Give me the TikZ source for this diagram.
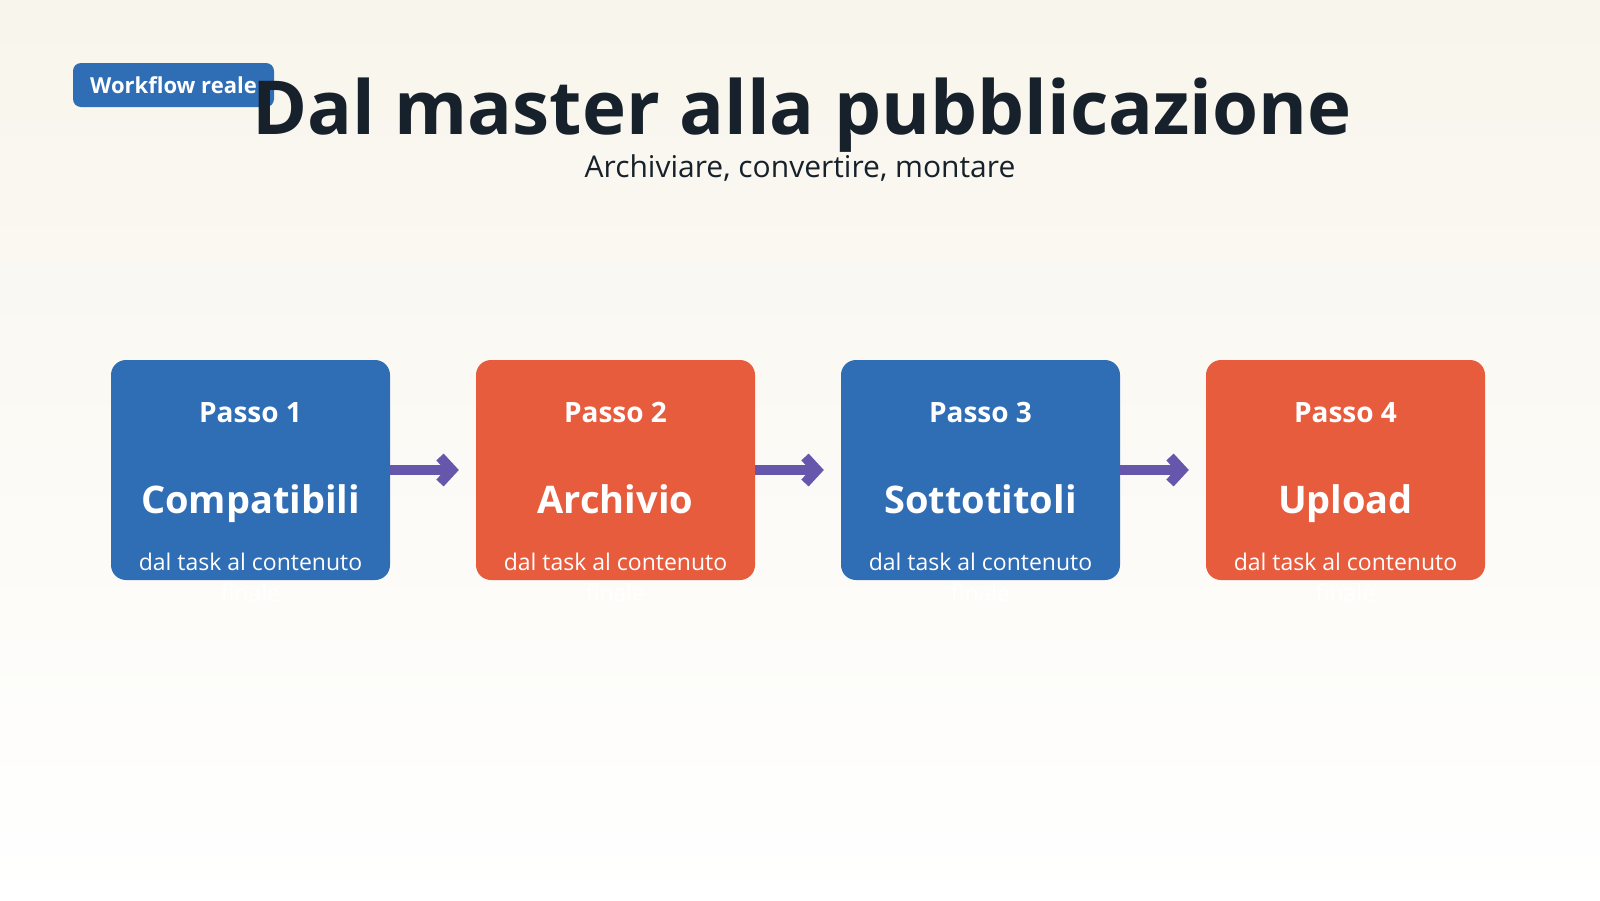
\documentclass[tikz,border=0pt]{standalone}
\usepackage{fontspec}
\setmainfont{Open Sans}
\usetikzlibrary{positioning,calc,arrows.meta}

\definecolor{fondo}{HTML}{F8F5EC}
\definecolor{blu}{HTML}{2F6DB5}
\definecolor{rosso}{HTML}{E85C3E}
\definecolor{viola}{HTML}{6656AC}
\definecolor{inchiostro}{HTML}{17212B}

\tikzset{
  badge/.style={fill=blu,rounded corners=8pt,minimum width=201pt,minimum height=44pt,
    inner sep=0pt,text height=16pt,text depth=0pt,text=white,
    font=\fontsize{22}{26}\selectfont\bfseries},
  passobox/.style={rounded corners=15pt,minimum width=279pt,minimum height=220pt,inner sep=0pt},
  passonum/.style={text=white,inner sep=0pt,font=\fontsize{28}{32}\selectfont\bfseries},
  passonome/.style={text=white,inner sep=0pt,font=\fontsize{38}{44}\selectfont\bfseries},
  passodesc/.style={text=white,inner sep=0pt,align=center,font=\fontsize{23}{31}\selectfont},
  freccia/.style={viola,line width=10pt,-{Straight Barb[length=12pt,width=26pt]},shorten >=17pt}
}

\begin{document}
\begin{tikzpicture}[x=1pt,y=-1pt]
        \shade[top color=fondo,bottom color=white] (0,0) rectangle (1600,900);
        \useasboundingbox (0,0) rectangle (1600,900);
        \node[badge] (badge) at (173.5,85) {Workflow reale};
        \node[anchor=base,inner sep=0pt,text=inchiostro,font=\fontsize{74.5}{80}\selectfont\bfseries]
          (titolo) at (802,134) {Dal master alla pubblicazione};
        \node[anchor=base,inner sep=0pt,text=inchiostro,font=\fontsize{30}{34}\selectfont]
          (sottotitolo) at (800,177) {Archiviare, convertire, montare};
        \foreach \i/\nome/\col in {1/Compatibili/blu,2/Archivio/rosso,3/Sottotitoli/blu,4/Upload/rosso} {
          \node[passobox,fill=\col] (passo\i) at ({250.5+365*(\i-1)},470) {};
          \node[passonum,anchor=base] (num\i) at ($(passo\i.north)+(0,63)$) {Passo \i};
          \node[passonome,anchor=base] (nome\i) at ($(passo\i.north)+(0,154)$) {\nome};
          \node[passodesc,anchor=base] (desc\i) at ($(passo\i.north)+(0,242)$) {dal task al contenuto\\finale};
        }
        \foreach \i/\j in {1/2,2/3,3/4} {
          \draw[freccia] (passo\i.east) -- (passo\j.west);
        }
      \end{tikzpicture}
\end{document}
